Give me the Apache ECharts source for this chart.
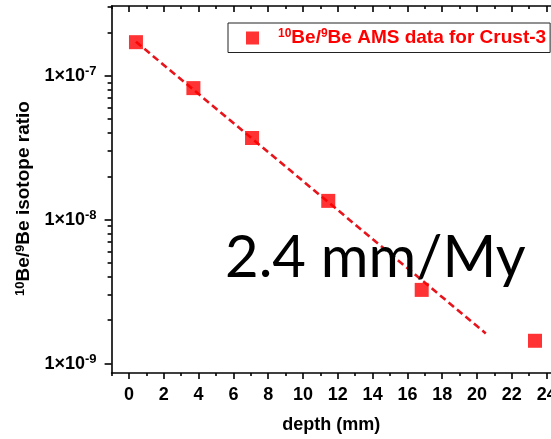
<!DOCTYPE html>
<html>
<head>
<meta charset="utf-8">
<script src="https://cdn.jsdelivr.net/npm/echarts@6/dist/echarts.min.js"></script>
<style>
html,body{margin:0;padding:0;background:#fff;overflow:hidden;}
#chart{width:551px;height:439px;}
</style>
</head>
<body>
<div id="chart"></div>
<script>
// ---- data ----
var depth = [0.4, 3.7, 7.07, 11.45, 16.82, 23.33];          // mm
var ratio = [1.71e-7, 8.2e-8, 3.69e-8, 1.35e-8, 3.25e-9, 1.44e-9];
var fitDepth = [0.4, 20.5];
var fitRatio = [1.72e-7, 1.62e-9];
var xMajorTicks = [0, 2, 4, 6, 8, 10, 12, 14, 16, 18, 20, 22, 24];
var xMinorTicks = [-1, 1, 3, 5, 7, 9, 11, 13, 15, 17, 19, 21, 23];
var yMajorTicks = [1e-9, 1e-8, 1e-7];
var yMinorTicks = [2e-9,3e-9,4e-9,5e-9,6e-9,7e-9,8e-9,9e-9,
                   2e-8,3e-8,4e-8,5e-8,6e-8,7e-8,8e-8,9e-8,
                   2e-7,3e-7];
var annotation = '2.4 mm/My';

var pts = depth.map(function (d, i) { return [d, ratio[i]]; });
var fit = fitDepth.map(function (d, i) { return [d, fitRatio[i]]; });

var X_MIN = -1, X_MAX = 24.25, Y_MIN = 8.6e-10, Y_MAX = 3.05e-7;
var FONT = 'Liberation Sans, Arial, sans-serif';
var lineStyle = { color: '#000', width: 1.6 };

function xAxisBase(pos) {
  return { type: 'value', position: pos, min: X_MIN, max: X_MAX, gridIndex: 0,
    splitLine: { show: false }, axisLabel: { show: false },
    axisLine: { show: false, onZero: false }, axisTick: { show: false } };
}
var xAxes = [];
var xa0 = xAxisBase('bottom');
xa0.axisLine = { show: true, onZero: false, lineStyle: lineStyle };
xa0.axisTick = { show: true, inside: false, length: 6, customValues: xMajorTicks, lineStyle: lineStyle };
xa0.axisLabel = { show: true, customValues: xMajorTicks, margin: 13, color: '#000',
  fontFamily: FONT, fontWeight: 'bold', fontSize: 18, hideOverlap: false };
xa0.name = 'depth (mm)';
xa0.nameLocation = 'middle';
xa0.nameGap = 43;
xa0.nameTextStyle = { color: '#000', fontFamily: FONT, fontWeight: 'bold', fontSize: 18 };
xAxes.push(xa0);
var xa1 = xAxisBase('bottom');
xa1.axisTick = { show: true, inside: false, length: 3, customValues: xMinorTicks, lineStyle: lineStyle };
xAxes.push(xa1);
var xa2 = xAxisBase('top');
xa2.axisLine = { show: true, onZero: false, lineStyle: lineStyle };
xa2.axisTick = { show: true, inside: true, length: 6, customValues: xMajorTicks, lineStyle: lineStyle };
xAxes.push(xa2);
var xa3 = xAxisBase('top');
xa3.axisTick = { show: true, inside: true, length: 3, customValues: xMinorTicks, lineStyle: lineStyle };
xAxes.push(xa3);

var yAxes = [
  { type: 'log', logBase: 10, position: 'left', min: Y_MIN, max: Y_MAX,
    splitLine: { show: false },
    axisLine: { show: true, onZero: false, lineStyle: lineStyle },
    axisTick: { show: true, inside: false, length: 7, customValues: yMajorTicks, lineStyle: lineStyle },
    axisLabel: { show: true, customValues: yMajorTicks, margin: 15,
      formatter: function (v) { return '{a|1×10}{b|' + Math.round(Math.log10(v)) + '}'; },
      rich: {
        a: { fontFamily: FONT, fontWeight: 'bold', fontSize: 18, color: '#000' },
        b: { fontFamily: FONT, fontWeight: 'bold', fontSize: 13, color: '#000', verticalAlign: 'top', padding: [0, 0, 8, 0] }
      } },
    name: '{s|10}{m|Be/}{s|9}{m|Be isotope ratio}',
    nameLocation: 'middle', nameGap: 68,
    nameTextStyle: { padding: [0, 18, 0, 0], rich: {
      s: { fontFamily: FONT, fontWeight: 'bold', fontSize: 13, color: '#000', verticalAlign: 'top', padding: [0, 0, 8, 0] },
      m: { fontFamily: FONT, fontWeight: 'bold', fontSize: 19, color: '#000' } } }
  },
  { type: 'log', logBase: 10, position: 'left', min: Y_MIN, max: Y_MAX,
    splitLine: { show: false }, axisLine: { show: false, onZero: false }, axisLabel: { show: false },
    axisTick: { show: true, inside: false, length: 4, customValues: yMinorTicks, lineStyle: lineStyle } }
];

var chart = echarts.init(document.getElementById('chart'), null, { renderer: 'canvas' });
chart.setOption({
  animation: false,
  backgroundColor: '#fff',
  grid: { left: 111.6, right: 0, top: 6, bottom: 66, containLabel: false, outerBoundsMode: 'none' },
  xAxis: xAxes,
  yAxis: yAxes,
  legend: {
    data: ['10Be/9Be AMS data for Crust-3'],
    left: 228, top: 23,
    orient: 'horizontal',
    borderColor: '#222', borderWidth: 1, borderRadius: 0,
    padding: [5, 4, 5, 18],
    itemWidth: 13, itemHeight: 13, icon: 'rect',
    formatter: function () { return '{g|}{s|10}{m|Be/}{s|9}{m|Be AMS data for Crust-3}'; },
    textStyle: { rich: {
      g: { width: 14 },
      s: { fontFamily: FONT, fontWeight: 'bold', fontSize: 12, color: '#f00', verticalAlign: 'top', padding: [0, 0, 8, 0] },
      m: { fontFamily: FONT, fontWeight: 'bold', fontSize: 19, color: '#f00' } } }
  },
  graphic: [{
    type: 'text', left: 225, top: 229, z: 100,
    style: { text: annotation, font: '58px Lato, "Open Sans", sans-serif', fill: '#000' }
  }],
  series: [
    { name: 'fit', type: 'line', xAxisIndex: 0, yAxisIndex: 0, data: fit, showSymbol: false, symbol: 'none',
      lineStyle: { color: '#e8141c', width: 2.6, type: [7, 4] }, z: 2, silent: true },
    { name: '10Be/9Be AMS data for Crust-3', type: 'scatter', xAxisIndex: 0, yAxisIndex: 0, data: pts,
      symbol: 'rect', symbolSize: 14, itemStyle: { color: '#ff0000' }, z: 3 }
  ]
});
</script>
</body>
</html>
